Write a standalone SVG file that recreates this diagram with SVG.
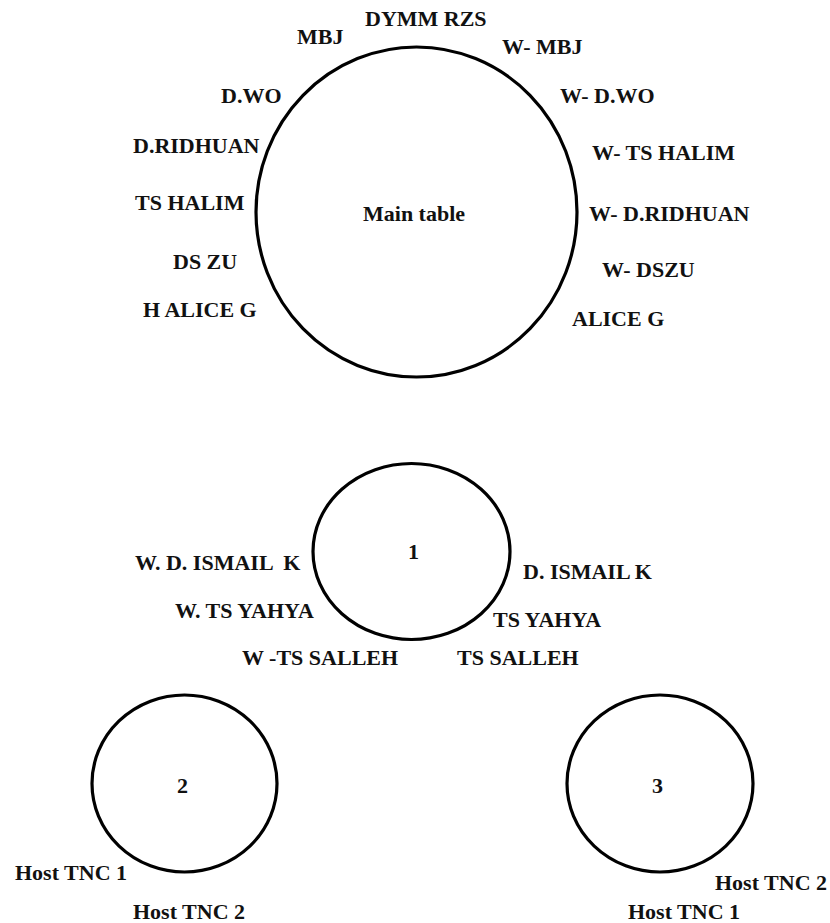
<svg xmlns="http://www.w3.org/2000/svg" width="830" height="923" viewBox="0 0 830 923">
<style>
.c{fill:none;stroke:#000;stroke-width:3.2}
</style>
<rect width="830" height="923" fill="#fff"/>
<g id="connectors"></g>
<g id="main-table" font-family="Liberation Serif" font-weight="bold" font-size="22" fill="#111">
<ellipse class="c" cx="416.5" cy="212" rx="160.5" ry="165"/>
<text x="363" y="221">Main table</text>
<text x="365" y="26">DYMM RZS</text>
<text x="297" y="44">MBJ</text>
<text x="221" y="103">D.WO</text>
<text x="133" y="153">D.RIDHUAN</text>
<text x="135" y="210">TS HALIM</text>
<text x="173" y="269">DS ZU</text>
<text x="143" y="317">H ALICE G</text>
<text x="502" y="54">W- MBJ</text>
<text x="560" y="103">W- D.WO</text>
<text x="592" y="160">W- TS HALIM</text>
<text x="589" y="221">W- D.RIDHUAN</text>
<text x="602" y="277">W- DSZU</text>
<text x="572" y="326">ALICE G</text>
</g>
<g id="table-1" font-family="Liberation Serif" font-weight="bold" font-size="22" fill="#111">
<ellipse class="c" cx="411.5" cy="551.5" rx="98.5" ry="88"/>
<text x="408" y="559">1</text>
<text x="135" y="570" xml:space="preserve">W. D. ISMAIL  K</text>
<text x="175" y="618">W. TS YAHYA</text>
<text x="242" y="665">W -TS SALLEH</text>
<text x="523" y="579">D. ISMAIL K</text>
<text x="493" y="627">TS YAHYA</text>
<text x="457" y="665">TS SALLEH</text>
</g>
<g id="table-2" font-family="Liberation Serif" font-weight="bold" font-size="22" fill="#111">
<ellipse class="c" cx="184.5" cy="783.5" rx="92.5" ry="88.5"/>
<text x="177" y="793">2</text>
<text x="15" y="880">Host TNC 1</text>
<text x="133" y="919">Host TNC 2</text>
</g>
<g id="table-3" font-family="Liberation Serif" font-weight="bold" font-size="22" fill="#111">
<ellipse class="c" cx="660" cy="783.5" rx="93" ry="88.5"/>
<text x="652" y="793">3</text>
<text x="715" y="890">Host TNC 2</text>
<text x="628" y="919">Host TNC 1</text>
</g>
</svg>
